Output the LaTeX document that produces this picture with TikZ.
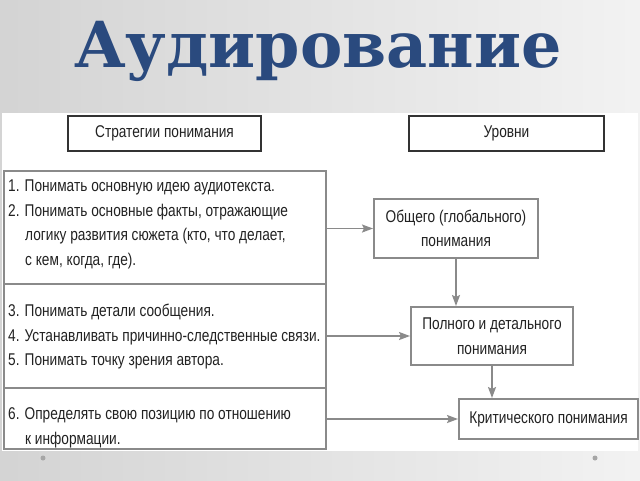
\documentclass[tikz,border=0pt]{standalone}
\usepackage{fontspec}
\setmainfont{Liberation Sans}
\newfontfamily\narrowfont[FakeStretch=0.805]{Liberation Sans}
\newfontfamily\titlefont{DejaVu Serif}
\usepackage{tikz}
\usetikzlibrary{shapes, arrows.meta, fit}
\usetikzlibrary{positioning}
\usepackage{color}

\definecolor{titleblue}{HTML}{2A4A7E}
\definecolor{boxgray}{HTML}{8A8A8A}
\definecolor{txtgray}{HTML}{222222}

\tikzset{
    bodyfont/.style={font=\narrowfont\fontsize{17}{24.5}\selectfont, text=txtgray},
    headbox/.style={draw=black!80, line width=2pt, fill=white, inner sep=0pt,
        minimum height=35pt, bodyfont},
    levelbox/.style={draw=boxgray, line width=2pt, fill=white, inner sep=0pt,
        align=center, anchor=north west, bodyfont},
    secbox/.style={draw=boxgray, line width=2pt, inner sep=0pt, anchor=north west},
    itemtext/.style={align=left, anchor=north west, inner sep=0pt, bodyfont},
    arr/.style={draw=boxgray, line width=1.8pt, -{Stealth[length=11pt, width=8pt, inset=2pt]}},
}

\begin{document}
\begin{tikzpicture}[x=1pt, y=-1pt]
    % slide background
    \shade[left color=black!17, right color=black!5] (0,0) rectangle (640,480);
    \fill[white] (2,113) rectangle (638,451);
    \fill[black!35] (43,458) circle (2.5);
    \fill[black!35] (595,458) circle (2.5);

    \node[font=\titlefont\bfseries\fontsize{63.5}{63.5}\selectfont, text=titleblue,
        anchor=base] (title) at (318,67) {Аудирование};

    \node[headbox, minimum width=193pt, anchor=north west] (strat) at (67,115)
        {Стратегии понимания};
    \node[headbox, minimum width=195pt, anchor=north west] (levels) at (408,115)
        {Уровни};

    % left column
    \foreach[count=\i] \ytop/\h in {170/113, 283/104, 387/61} {
        \node[secbox, minimum width=322pt, minimum height=\h pt] (sec-\i)
            at (3,\ytop) {};
    }
    \node[itemtext] (txt-1) at (8,180) {1. Понимать основную идею аудиотекста.\\
        2. Понимать основные факты, отражающие\\
        \hspace*{17pt}логику развития сюжета (кто, что делает,\\
        \hspace*{17pt}с кем, когда, где).};
    \node[itemtext] (txt-2) at (8,304) {3. Понимать детали сообщения.\\
        4. Устанавливать причинно-следственные связи.\\
        5. Понимать точку зрения автора.};
    \node[itemtext] (txt-3) at (8,407.5) {6. Определять свою позицию по отношению\\
        \hspace*{17pt}к информации.};

    % levels
    \node[levelbox, minimum width=164pt, minimum height=59pt] (glob) at (373,198)
        {Общего (глобального)\\понимания};
    \node[levelbox, minimum width=162pt, minimum height=58pt] (full) at (410,306)
        {Полного и детального\\понимания};
    \node[levelbox, minimum width=179pt, minimum height=40pt] (crit) at (458,398)
        {Критического понимания};

    \draw[arr] (sec-1.east |- glob.west) -- (glob.west);
    \draw[arr] (sec-2.east |- full.west) -- (full.west);
    \draw[arr] (sec-3.east |- crit.west) -- (crit.west);
    \draw[arr] (glob.south) -- (glob.south |- full.north);
    \draw[arr] (full.south) -- (full.south |- crit.north);
\end{tikzpicture}
\end{document}
